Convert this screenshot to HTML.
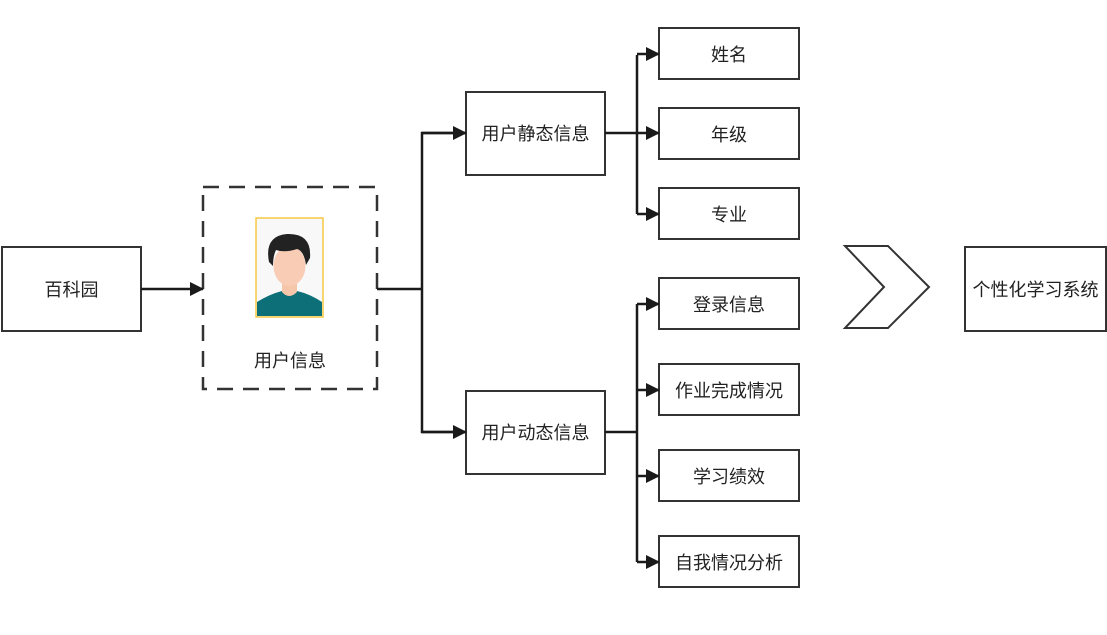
<!DOCTYPE html>
<html><head><meta charset="utf-8"><style>
html,body{margin:0;padding:0;background:#fff;}
svg text{font-family:"Liberation Sans","Noto Sans CJK SC",sans-serif;font-size:18px;fill:#222;}
</style></head><body>
<svg width="1107" height="630" viewBox="0 0 1107 630" xmlns="http://www.w3.org/2000/svg">
<defs><marker id="b" markerWidth="14" markerHeight="14" refX="13" refY="7" orient="auto" markerUnits="userSpaceOnUse"><path d="M0,0 L14,7 L0,14 z" fill="#1a1a1a"/></marker></defs>
<g fill="none" stroke="#333" stroke-width="2">
<rect x="2" y="247" width="139" height="84"/>
<rect x="203" y="187" width="174" height="202" stroke-dasharray="16,10" stroke-width="2.5"/>
<rect x="466" y="92" width="139" height="83"/>
<rect x="466" y="391" width="139" height="83"/>
<rect x="659" y="28" width="140" height="51"/>
<rect x="659" y="108" width="140" height="51"/>
<rect x="659" y="188" width="140" height="51"/>
<rect x="659" y="278" width="140" height="51"/>
<rect x="659" y="364" width="140" height="51"/>
<rect x="659" y="450" width="140" height="51"/>
<rect x="659" y="536" width="140" height="51"/>
<rect x="965" y="247" width="141" height="84"/>
<polygon points="845,246 888,246 929,287 888,328 845,328 884,287"/>
</g>
<g fill="none" stroke="#1a1a1a" stroke-width="2.5">
<line x1="141" y1="289" x2="203" y2="289" marker-end="url(#b)"/>
<line x1="377" y1="289" x2="422" y2="289"/>
<polyline points="466,133 422,133 422,432 466,432"/>
<line x1="422" y1="133" x2="466" y2="133" marker-end="url(#b)"/>
<line x1="422" y1="432" x2="466" y2="432" marker-end="url(#b)"/>
<line x1="605" y1="133" x2="637" y2="133"/>
<line x1="637" y1="55" x2="637" y2="214"/>
<line x1="637" y1="54" x2="659" y2="54" marker-end="url(#b)"/>
<line x1="637" y1="133" x2="659" y2="133" marker-end="url(#b)"/>
<line x1="637" y1="214" x2="659" y2="214" marker-end="url(#b)"/>
<line x1="605" y1="432" x2="637" y2="432"/>
<line x1="637" y1="304" x2="637" y2="562"/>
<line x1="637" y1="304" x2="659" y2="304" marker-end="url(#b)"/>
<line x1="637" y1="390" x2="659" y2="390" marker-end="url(#b)"/>
<line x1="637" y1="476" x2="659" y2="476" marker-end="url(#b)"/>
<line x1="637" y1="562" x2="659" y2="562" marker-end="url(#b)"/>
</g>
<!-- photo -->
<rect x="256" y="218" width="67" height="99" fill="#f8f8f8" stroke="#f5c842" stroke-width="1.5"/>
<path d="M257,316 L257,302 Q270,294 282,291 L297,291 Q310,294 322,302 L322,316 Z" fill="#0d6f78"/>
<path d="M282,280 L282,292 Q289,300 297,292 L297,280 Z" fill="#f6c6ab"/>
<ellipse cx="289.5" cy="266" rx="16" ry="20" fill="#f9cdb5"/>
<path d="M269,262 Q264,236 287,234 Q312,233 310,258 L306,265 Q304,251 297,249 Q285,253 276,250 Q273,256 273,266 Z" fill="#222"/>
<g text-anchor="middle" dominant-baseline="central">
<text x="71.5" y="290">百科园</text>
<text x="290" y="361">用户信息</text>
<text x="535.5" y="134">用户静态信息</text>
<text x="535.5" y="433">用户动态信息</text>
<text x="729" y="55">姓名</text>
<text x="729" y="135">年级</text>
<text x="729" y="215">专业</text>
<text x="729" y="305">登录信息</text>
<text x="729" y="391">作业完成情况</text>
<text x="729" y="477">学习绩效</text>
<text x="729" y="563">自我情况分析</text>
<text x="1035.5" y="290">个性化学习系统</text>
</g>
</svg>
</body></html>
